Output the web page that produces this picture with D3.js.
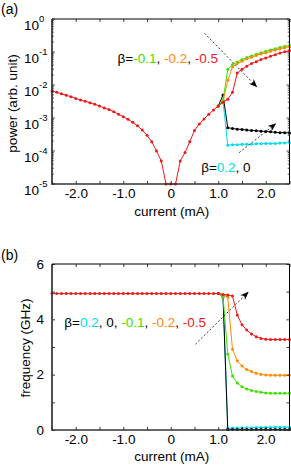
<html>
<head>
<title>power and frequency vs current</title>
<script src="https://cdn.jsdelivr.net/npm/d3@7"></script>
<style>
body{margin:0;background:#fff;}
text{font-family:"Liberation Sans",Arial,sans-serif;font-size:13.5px;fill:#000;}
</style>
</head>
<body>
<div id="chart"></div>
<script>
// current (mA), one point every 0.1 mA
var current = [-2.5,-2.4,-2.3,-2.2,-2.1,-2.0,-1.9,-1.8,-1.7,-1.6,-1.5,-1.4,-1.3,-1.2,-1.1,-1.0,-0.9,-0.8,-0.7,-0.6,
  -0.5,-0.4,-0.3,-0.2,-0.1,0,0.1,0.2,0.3,0.4,0.5,0.6,0.7,0.8,0.9,1.0,
  1.1,1.2,1.3,1.4,1.5,1.6,1.7,1.8,1.9,2.0,2.1,2.2,2.3,2.4,2.5];

// power, same for every beta from -2.5 to 1.0 mA
var powerShared = [6.6e-3,6.0e-3,5.4e-3,4.9e-3,4.4e-3,3.9e-3,3.5e-3,3.2e-3,2.9e-3,2.6e-3,
  2.3e-3,2.0e-3,1.8e-3,1.55e-3,1.3e-3,1.1e-3,9.1e-4,7.4e-4,5.8e-4,4.3e-4,
  3.0e-4,1.9e-4,1.0e-4,5.0e-5,1e-5,1e-5,1e-5,5.0e-5,9.0e-5,1.9e-4,
  4.2e-4,6.6e-4,9.3e-4,1.3e-3,1.75e-3,2.3e-3];
// power from 1.1 to 2.5 mA
var powerRed    = [3.0e-3,3.7e-3,6.0e-3,2.3e-2,3.0e-2,3.7e-2,4.5e-2,5.1e-2,5.9e-2,6.6e-2,7.4e-2,8.3e-2,9.3e-2,0.102,0.112];
var powerOrange = [3.0e-3,1.4e-2,3.5e-2,4.5e-2,5.2e-2,6.2e-2,6.9e-2,7.8e-2,8.7e-2,9.5e-2,0.105,0.115,0.126,0.135,0.145];
var powerGreen  = [3.5e-3,3.0e-2,4.2e-2,5.0e-2,5.9e-2,6.8e-2,7.6e-2,8.5e-2,9.5e-2,0.105,0.115,0.126,0.138,0.148,0.158];
var powerBlack  = [5.0e-3,5.1e-4,4.8e-4,4.6e-4,4.5e-4,4.3e-4,4.2e-4,4.1e-4,4.0e-4,3.9e-4,3.8e-4,3.7e-4,3.6e-4,3.6e-4,3.5e-4];
var powerCyan   = [3.2e-3,1.5e-4,1.55e-4,1.55e-4,1.6e-4,1.6e-4,1.6e-4,1.65e-4,1.65e-4,1.7e-4,1.7e-4,1.7e-4,1.75e-4,1.75e-4,1.8e-4];

// frequency (GHz), same for every beta from -2.5 to 1.0 mA
var freqShared = [4.93,4.93,4.93,4.93,4.93,4.93,4.93,4.93,4.93,4.93,4.93,4.93,4.93,4.93,4.93,4.93,4.93,4.93,
  4.93,4.93,4.93,4.93,4.93,4.93,4.93,4.93,4.93,4.93,4.93,4.93,4.93,4.93,4.93,4.93,4.93,4.93];
// frequency from 1.1 to 2.5 mA
var freqRed    = [4.9,4.88,4.84,4.16,3.8,3.61,3.47,3.37,3.31,3.28,3.27,3.27,3.27,3.27,3.27];
var freqOrange = [4.88,4.8,2.92,2.5,2.31,2.19,2.11,2.05,2.01,1.99,1.98,1.98,1.98,1.98,1.98];
var freqGreen  = [4.82,2.75,1.95,1.7,1.56,1.48,1.43,1.39,1.36,1.34,1.33,1.33,1.33,1.33,1.33];
var freqBlack  = [4.85,0.02,0.02,0.02,0.02,0.02,0.02,0.02,0.02,0.02,0.02,0.02,0.02,0.02,0.02];
var freqCyan   = [4.8,0.06,0.07,0.07,0.08,0.08,0.08,0.09,0.09,0.09,0.1,0.1,0.1,0.1,0.1];

var xTicks = [-2.5,-2,-1.5,-1,-0.5,0,0.5,1,1.5,2,2.5];
var freqTicks = [0,1,2,3,4,5,6];
var freqLabels = [0,2,4,6];
var powerDecades = [-5,-4,-3,-2,-1,0];

var colors = {cyan:"#00dcee", black:"#000000", green:"#3ee000", orange:"#ff8a00", red:"#f01818"};

// drawing order: red ends on top; the shared part is only drawn once (red hides the rest anyway)
var sharedEnd = powerShared.length - 1;
var series = [
  {color:colors.cyan,   start:sharedEnd, power:powerShared.concat(powerCyan),   freq:freqShared.concat(freqCyan)},
  {color:colors.black,  start:sharedEnd, power:powerShared.concat(powerBlack),  freq:freqShared.concat(freqBlack)},
  {color:colors.green,  start:sharedEnd, power:powerShared.concat(powerGreen),  freq:freqShared.concat(freqGreen)},
  {color:colors.orange, start:sharedEnd, power:powerShared.concat(powerOrange), freq:freqShared.concat(freqOrange)},
  {color:colors.red,    start:0,         power:powerShared.concat(powerRed),    freq:freqShared.concat(freqRed)}
];

var svg = d3.select("#chart").append("svg")
    .attr("width", 291)
    .attr("height", 468);
svg.append("rect").attr("width", 291).attr("height", 468).attr("fill", "#fff");

svg.append("defs").append("marker")
    .attr("id", "head")
    .attr("markerUnits", "userSpaceOnUse")
    .attr("markerWidth", 12).attr("markerHeight", 12)
    .attr("refX", 0).attr("refY", 0)
    .attr("viewBox", "-8 -4 10 8")
    .attr("orient", "auto")
  .append("path")
    .attr("d", "M0,0 L-7,-2.8 L-5,0 L-7,2.8 Z")
    .attr("fill", "#000");

var left = 52, right = 289.5;
var x = d3.scaleLinear().domain([-2.5, 2.5]).range([left, right]);

var panelA = {top:19, bottom:184};
var panelB = {top:264, bottom:430};
var yP = d3.scaleLog().domain([1e-5, 1]).range([panelA.bottom, panelA.top]).clamp(true);
var yF = d3.scaleLinear().domain([0, 6]).range([panelB.bottom, panelB.top]);

function fmtX(d) {
  if (d % 1 !== 0) return "";
  return d === 0 ? "0" : d.toFixed(1);
}

//ticks on all four sides, pointing inward
function drawFrame(p, yAxisLeft, yAxisRight) {
  var gb = svg.append("g").attr("transform", "translate(0," + p.bottom + ")")
      .call(d3.axisBottom(x).tickValues(xTicks).tickSizeInner(-3).tickSizeOuter(0).tickPadding(4.5).tickFormat(fmtX));
  var gt = svg.append("g").attr("transform", "translate(0," + p.top + ")")
      .call(d3.axisTop(x).tickValues(xTicks).tickSizeInner(-3).tickSizeOuter(0).tickFormat(""));
  var gl = svg.append("g").attr("transform", "translate(" + left + ",0)").call(yAxisLeft);
  var gr = svg.append("g").attr("transform", "translate(" + right + ",0)").call(yAxisRight);
  [gb, gt, gl, gr].forEach(function(g){
    g.select(".domain").remove();
    g.selectAll(".tick line").attr("stroke", "#222").attr("stroke-width", 0.9);
  });
  svg.append("line").attr("x1", right).attr("x2", right).attr("y1", p.top).attr("y2", p.bottom)
      .attr("stroke", "#000").attr("stroke-width", 1);
  svg.append("line").attr("x1", left).attr("x2", right).attr("y1", p.top).attr("y2", p.top)
      .attr("stroke", "#000").attr("stroke-width", 1);
  svg.append("line").attr("x1", left).attr("x2", left).attr("y1", p.top).attr("y2", p.bottom + 0.8)
      .attr("stroke", "#333").attr("stroke-width", 1.7);
  svg.append("line").attr("x1", left).attr("x2", right).attr("y1", p.bottom).attr("y2", p.bottom)
      .attr("stroke", "#333").attr("stroke-width", 1.7);
}

function drawSeries(y, key) {
  var g = svg.append("g");
  series.forEach(function(s){
    var pts = s[key].map(function(d, i){ return [current[i], d]; }).slice(s.start);
    var line = d3.line()
        .x(function(d){ return x(d[0]); })
        .y(function(d){ return y(d[1]); });
    g.append("path")
        .attr("d", line(pts))
        .attr("fill", "none")
        .attr("stroke", s.color)
        .attr("stroke-width", 1);
    g.selectAll(null)
        .data(pts)
        .enter().append("circle")
        .attr("cx", function(d){ return x(d[0]); })
        .attr("cy", function(d){ return y(d[1]); })
        .attr("r", 1.5)
        .attr("fill", s.color);
  });
}

function arrow(x1, y1, x2, y2) {
  svg.append("line")
      .attr("x1", x1).attr("y1", y1).attr("x2", x2).attr("y2", y2)
      .attr("stroke", "#222").attr("stroke-width", 0.9)
      .attr("stroke-dasharray", "2,2")
      .attr("marker-end", "url(#head)");
}

function colorText(px, py, parts) {
  var t = svg.append("text").attr("x", px).attr("y", py);
  parts.forEach(function(p){
    t.append("tspan").text(p[0]).style("fill", p[1]);
  });
}

// ---------- panel (a): power ----------
var decadeTicks = yP.ticks();
drawSeries(yP, "power");
drawFrame(panelA,
  d3.axisLeft(yP).tickValues(decadeTicks).tickSizeInner(0).tickFormat(""),
  d3.axisRight(yP).tickValues(decadeTicks).tickSizeInner(0).tickFormat(""));
// minor / major log ticks drawn by hand so decades are longer
[left, right].forEach(function(ax){
  var dir = ax === left ? 1 : -1;
  svg.append("g").selectAll("line")
    .data(decadeTicks)
    .enter().append("line")
    .attr("x1", ax)
    .attr("x2", function(d){ var m = Math.abs(Math.log10(d) % 1) < 1e-9; return ax + dir * (m ? 3 : 1.8); })
    .attr("y1", function(d){ return yP(d); })
    .attr("y2", function(d){ return yP(d); })
    .attr("stroke", "#222").attr("stroke-width", 0.8);
});
// 10^n labels
powerDecades.forEach(function(n){
  var t = svg.append("text")
      .attr("x", 24)
      .attr("y", yP(Math.pow(10, n)) + 11);
  t.append("tspan").text("10");
  t.append("tspan").text(n === 0 ? "0" : "-" + Math.abs(n))
      .attr("dy", -8)
      .style("font-size", "9.5px");
});

svg.append("text").attr("x", 1).attr("y", 14).style("font-size", "14px").text("(a)");
svg.append("text").attr("text-anchor", "middle")
    .attr("transform", "translate(17," + ((panelA.top + panelA.bottom) / 2 + 2) + ") rotate(-90)")
    .text("power (arb. unit)");
svg.append("text").attr("text-anchor", "middle")
    .attr("x", x(0) + 1).attr("y", 216)
    .text("current (mA)");

colorText(x(-1.12), yP(0.047), [["β=", "#000"], ["-0.1", colors.green], [", ", "#000"], ["-0.2", colors.orange], [", ", "#000"], ["-0.5", colors.red]]);
colorText(x(0.64), yP(2.3e-5), [["β=", "#000"], ["0.2", colors.cyan], [", 0", "#000"]]);
arrow(x(0.71), yP(0.37), x(1.82), yP(8.5e-3));
arrow(x(1.44), yP(8.9e-5), x(2.22), yP(6.9e-4));

// ---------- panel (b): frequency ----------
drawSeries(yF, "freq");
drawFrame(panelB,
  d3.axisLeft(yF).tickValues(freqTicks).tickSizeInner(-3).tickSizeOuter(0).tickPadding(8)
    .tickFormat(function(d){ return freqLabels.indexOf(d) >= 0 ? d : ""; }),
  d3.axisRight(yF).tickValues(freqTicks).tickSizeInner(-3).tickSizeOuter(0).tickFormat(""));

svg.append("text").attr("x", 1).attr("y", 260).style("font-size", "14px").text("(b)");
svg.append("text").attr("text-anchor", "middle")
    .attr("transform", "translate(30," + ((panelB.top + panelB.bottom) / 2 + 1) + ") rotate(-90)")
    .text("frequency (GHz)");
svg.append("text").attr("text-anchor", "middle")
    .attr("x", x(0) + 1).attr("y", 461)
    .text("current (mA)");

colorText(x(-2.24), yF(3.74), [["β=", "#000"], ["0.2", colors.cyan], [", 0, ", "#000"], ["-0.1", colors.green], [", ", "#000"], ["-0.2", colors.orange], [", ", "#000"], ["-0.5", colors.red]]);
arrow(x(0.52), yF(3.1), x(1.64), yF(5.0));
</script>
</body>
</html>
